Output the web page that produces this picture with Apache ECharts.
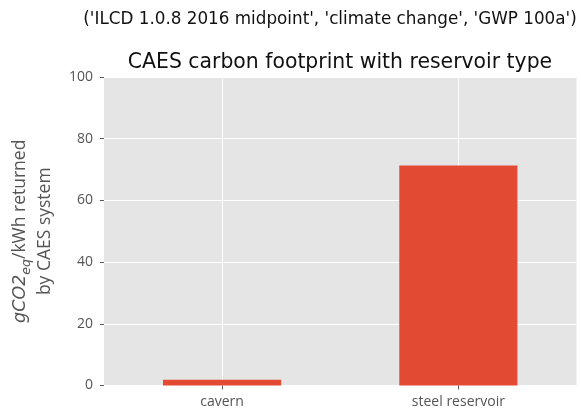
<!DOCTYPE html>
<html><head><meta charset="utf-8">
<script src="https://cdn.jsdelivr.net/npm/echarts@6/dist/echarts.min.js"></script>
<style>html,body{margin:0;padding:0;background:#fff}#c{width:581px;height:412px}</style>
</head><body><div id="c"></div>
<script>
const categories = ['cavern', 'steel reservoir'];
const values = [1.85, 71.3];
const yMin = 0, yMax = 100, yStep = 20;
const suptitle = "('ILCD 1.0.8 2016 midpoint', 'climate change', 'GWP 100a')";
const title = 'CAES carbon footprint with reservoir type';
const font = 'DejaVu Sans';
const lfont = 'Open Sans';
const chart = echarts.init(document.getElementById('c'), null, {renderer: 'canvas'});
chart.setOption({
  animation: false,
  backgroundColor: '#fff',
  textStyle: {fontFamily: font},
  title: [
    {text: suptitle, left: 325, top: 6, textAlign: 'center',
     textStyle: {fontSize: 16.8, fontWeight: 'normal', color: '#111', fontFamily: font}},
    {text: title, left: 335, top: 48, textAlign: 'center',
     textStyle: {fontSize: 20.4, fontWeight: 'normal', color: '#111', fontFamily: font}}
  ],
  grid: {left: 103.5, right: 4.5, top: 77, bottom: 26.5, show: true, backgroundColor: '#E5E5E5', borderWidth: 0},
  xAxis: {
    type: 'category', data: categories,
    axisLine: {show: false},
    axisTick: {show: true, alignWithLabel: true, length: 4, lineStyle: {color: '#555'}},
    splitLine: {show: true, alignWithLabel: true, lineStyle: {color: '#fff', width: 1}},
    axisLabel: {color: '#555', fontSize: 14, margin: 10, fontFamily: lfont}
  },
  yAxis: {
    type: 'value', min: yMin, max: yMax, interval: yStep,
    axisLine: {show: false},
    axisTick: {show: true, length: 4, lineStyle: {color: '#555'}},
    splitLine: {show: true, lineStyle: {color: '#fff', width: 1}},
    axisLabel: {color: '#555', fontSize: 14, margin: 11, fontFamily: lfont},
    name: '{m|gCO2}{sub|eq}{n|/kWh returned}\n{n|by CAES system}',
    nameLocation: 'middle', nameRotate: 90, nameGap: 44,
    nameTextStyle: {
      color: '#555', fontSize: 17.5, fontFamily: lfont, align: 'center', lineHeight: 25,
      rich: {
        m: {fontSize: 17.5, fontStyle: 'italic', color: '#555', fontFamily: font, lineHeight: 25},
        sub: {fontSize: 12.5, fontStyle: 'italic', color: '#555', fontFamily: font, verticalAlign: 'bottom', lineHeight: 25},
        n: {fontSize: 17.5, color: '#555', fontFamily: lfont, lineHeight: 25}
      }
    }
  },
  series: [{type: 'bar', data: values, barWidth: '50%', itemStyle: {color: '#E24A33'}}]
});
</script></body></html>
